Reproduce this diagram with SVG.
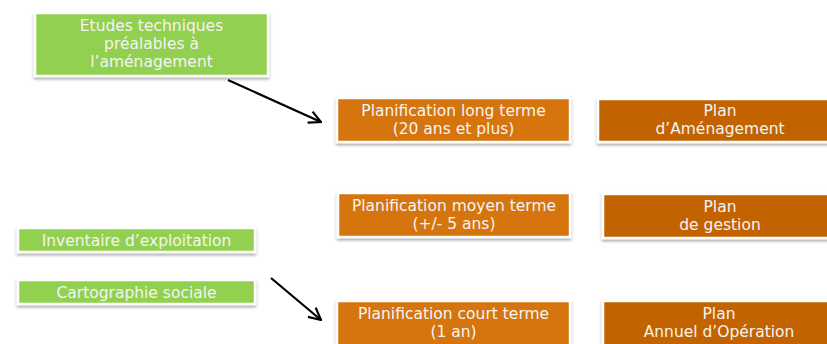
<svg xmlns="http://www.w3.org/2000/svg" width="827" height="344" viewBox="0 0 827 344">
<style>
.box{stroke:#ffffff;stroke-width:2.5;filter:url(#sh)}
.g{fill:#92D050}
.o1{fill:#D6740A}
.o2{fill:#C26400}
.t{font-family:"DejaVu Sans",Verdana,sans-serif;font-size:15.5px;fill:#F4F4F4;text-anchor:middle}
.c{stroke:#000;stroke-width:2.2;fill:none;marker-end:url(#ah)}
</style>
<defs>
<filter id="sh" x="-10%" y="-20%" width="120%" height="160%">
<feDropShadow dx="0" dy="2" stdDeviation="1.5" flood-color="#000" flood-opacity="0.35"/>
</filter>
<marker id="ah" viewBox="0 0 14 14" refX="13" refY="7" markerWidth="14" markerHeight="14" markerUnits="userSpaceOnUse" orient="auto">
<path d="M1,1 L13,7 L1,13" fill="none" stroke="#000" stroke-width="2.2"/>
</marker>
</defs>
<g id="connectors">
<line class="c" x1="228" y1="80" x2="321" y2="122"/>
<line class="c" x1="271" y1="278" x2="321" y2="320"/>
</g>
<g id="etudes">
<rect class="box g" x="35" y="13" width="233" height="63"/>
<text class="t"><tspan x="151.5" y="31">Etudes techniques</tspan><tspan x="151.5" y="49">préalables à</tspan><tspan x="151.5" y="67">l’aménagement</tspan></text>
</g>
<g id="inventaire">
<rect class="box g" x="18" y="228" width="237" height="24"/>
<text class="t" x="136.5" y="245.5">Inventaire d’exploitation</text>
</g>
<g id="cartographie">
<rect class="box g" x="18" y="280" width="237" height="24"/>
<text class="t" x="136.5" y="297.5">Cartographie sociale</text>
</g>
<g id="long-terme">
<rect class="box o1" x="337" y="98" width="233" height="44"/>
<text class="t"><tspan x="453.5" y="116">Planification long terme</tspan><tspan x="453.5" y="134">(20 ans et plus)</tspan></text>
</g>
<g id="plan-amenagement">
<rect class="box o2" x="598" y="99" width="244" height="43"/>
<text class="t"><tspan x="720" y="116">Plan</tspan><tspan x="720" y="134">d’Aménagement</tspan></text>
</g>
<g id="moyen-terme">
<rect class="box o1" x="338" y="193" width="232" height="44"/>
<text class="t"><tspan x="454" y="211">Planification moyen terme</tspan><tspan x="454" y="229">(+/- 5 ans)</tspan></text>
</g>
<g id="plan-gestion">
<rect class="box o2" x="603" y="194" width="240" height="44"/>
<text class="t"><tspan x="720" y="212">Plan</tspan><tspan x="720" y="230">de gestion</tspan></text>
</g>
<g id="court-terme">
<rect class="box o1" x="337" y="301" width="233" height="50"/>
<text class="t"><tspan x="453.5" y="319">Planification court terme</tspan><tspan x="453.5" y="337">(1 an)</tspan></text>
</g>
<g id="plan-annuel">
<rect class="box o2" x="603" y="301" width="240" height="50"/>
<text class="t"><tspan x="719" y="319">Plan</tspan><tspan x="719" y="337">Annuel d’Opération</tspan></text>
</g>
</svg>
